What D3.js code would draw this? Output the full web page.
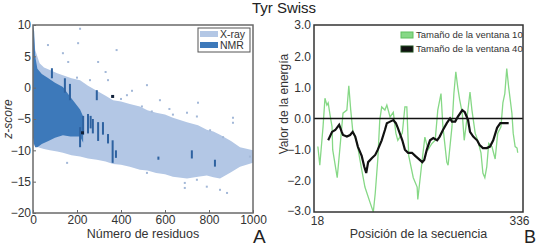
<!DOCTYPE html>
<html>
<head>
<meta charset="utf-8">
<script src="https://cdn.jsdelivr.net/npm/d3@7"></script>
<style>
  body { margin: 0; background: #fff; }
  svg { display: block; font-family: "Liberation Sans", Arial, sans-serif; }
</style>
</head>
<body>
<div id="chart"></div>
<script>
// ---- panel A: z-score vs number of residues ----
// dense clouds read as envelopes [n, upper, lower]
const xrayBand = [
  [0, 10, -9], [10, 6, -9.3], [30, 3.9, -9.6], [50, 3.2, -9.8], [77, 2.8, -10],
  [110, 2.3, -10.2], [136, 2.0, -10.4], [175, 1.5, -10.8], [214, 1.2, -11],
  [250, 0.3, -11.3], [290, -0.5, -11.5], [330, -1.3, -11.8], [364, -2.0, -12.2],
  [400, -2.2, -12.3], [440, -2.6, -12.6], [486, -3.0, -13.1], [520, -3.6, -13.2],
  [560, -4.0, -13.6], [600, -4.3, -13.8], [636, -4.8, -14.2], [700, -5.5, -14.5],
  [750, -6.0, -14.2], [790, -6.7, -14], [820, -7.0, -14.3], [850, -7.5, -14.5],
  [900, -8.5, -13.5], [941, -9.5, -12.6], [1000, -10, -12]
];
const nmrBand = [
  [0, 10, -8], [5, 9, -9], [10, 5, -9.5], [20, 3, -9.5], [40, 2.2, -9],
  [70, 1.5, -8.5], [100, 0.8, -8], [136, 0.1, -7.6], [170, -1.5, -7.8],
  [214, -3.5, -7.8], [228, -4.6, -8.8]
];
// NMR vertical streaks [n, top, bottom]
const nmrBars = [
  [86, 3.1, 1.5], [145, 1.5, -0.8], [168, 0.6, -2], [214, -6.3, -9.5], [228, -4.5, -7.5],
  [250, -4.2, -7.3], [262, -4.5, -6.5], [272, -5, -7.3], [290, -0.4, -2], [296, -5.5, -8.5],
  [318, -5.5, -7.5], [341, -7.4, -8.9], [362, -8.4, -12], [377, -10, -11.2],
  [570, -11, -11.5], [722, -10, -11.3], [827, -11.5, -12.6]
];
const blackDots = [[225, -7.2], [362, -1.4]];
const xrayOutliers = [
  [214, 9.4], [68, 6.8], [205, 7.1], [136, 5.5], [380, 6], [160, 4.1], [296, 4.1],
  [341, 1.2], [259, 1.2], [200, 1.6], [427, -1.2], [495, -3], [577, -2], [540, -3.8],
  [636, -4.3], [745, -4.6], [909, -4.8], [909, -5.6], [518, 0.4], [750, -2.4],
  [805, -6.8], [864, -7.9], [986, -11], [850, -16.3], [882, -16.8], [790, -15.8],
  [745, -14.7], [518, -13.6], [690, -16], [690, -15.2], [155, -12], [450, -0.5],
  [620, -3.4], [700, -4], [330, 2.5], [400, -1.8]
];
const xTicksA = [0, 200, 400, 600, 800, 1000];
const yTicksA = [10, 5, 0, -5, -10, -15, -20];

// ---- panel B: energy along sequence ----
const window10 = [
  [24, -0.9], [27, -1.5], [32, -0.27], [35, 0.65], [38, 0.43], [40, 0.5], [43, 0.1],
  [46, -0.27], [47, -1.0], [54, -1.9], [58, -1.0], [63, 0.17], [69, 0.27], [72, 1.05],
  [75, 0.27], [78, -0.37], [85, -0.8], [89, -1.3], [97, -2.2], [105, -2.7], [110, -3.0],
  [113, -2.4], [117, -1.3], [120, -0.05], [123, 0.37], [128, 0.27], [131, 0.43],
  [136, 0.05], [141, 0.2], [145, -0.47], [148, -0.7], [155, -0.47], [159, 0.37],
  [162, 0.37], [165, -1.2], [172, -1.9], [178, -2.2], [179, -2.6], [186, -1.3],
  [190, -0.6], [195, -1.0], [201, -0.8], [206, -0.7], [210, 0.27], [215, 0.8],
  [218, -0.27], [224, -1.4], [226, -1.5], [232, -0.27], [235, 0.8], [238, 1.5],
  [241, 1.0], [244, 0.6], [248, 0.17], [251, -0.7], [255, -0.05], [260, 0.85],
  [263, 0.27], [268, -0.47], [272, -0.7], [277, -1.1], [280, -1.75], [283, -1.9],
  [286, -1.55], [289, -0.8], [294, -0.9], [299, -1.3], [303, -0.47], [308, -0.27],
  [311, 0.5], [314, 0.8], [317, 1.6], [320, 1.0], [325, 0.17], [327, -0.47],
  [330, -0.9], [333, -0.95], [334, -1.1]
];
const window40 = [
  [40, -0.7], [46, -0.43], [51, -0.37], [57, -0.2], [61, -0.43], [63, -0.53],
  [69, -0.58], [74, -0.53], [78, -0.43], [82, -0.58], [86, -0.9], [92, -1.2],
  [96, -1.55], [99, -1.75], [102, -1.4], [108, -1.27], [113, -1.17], [117, -1.0],
  [123, -0.7], [128, -0.37], [131, -0.15], [136, -0.1], [141, -0.05], [145, -0.15],
  [148, -0.3], [155, -0.7], [159, -1.0], [164, -1.1], [170, -1.1], [175, -1.2],
  [179, -1.27], [186, -1.4], [189, -1.33], [193, -1.0], [198, -0.7], [203, -0.63],
  [209, -0.7], [213, -0.58], [218, -0.37], [224, -0.15], [229, 0.0], [232, -0.1],
  [237, -0.1], [241, 0.05], [248, 0.27], [252, 0.2], [257, -0.05], [260, -0.43],
  [265, -0.58], [271, -0.7], [275, -0.85], [280, -0.95], [286, -0.95], [291, -0.9],
  [296, -0.7], [302, -0.3], [307, -0.15], [311, -0.15], [317, -0.15], [320, -0.15]
];
const xTicksB = [18, 336];
const yTicksB = [3, 2, 1, 0, -1, -2, -3];

const W = 536, H = 250;
const svg = d3.select('#chart').append('svg')
  .attr('width', W).attr('height', H);

// title
svg.append('text')
  .attr('x', 284).attr('y', 13)
  .attr('text-anchor', 'middle')
  .style('font-size', '15px').style('fill', '#222')
  .text('Tyr Swiss');

// ================= panel A =================
const a = { left: 33, right: 253, top: 25, bottom: 213 };
const xA = d3.scaleLinear().domain([0, 1000]).range([a.left, a.right]);
const yA = d3.scaleLinear().domain([-20, 10]).range([a.bottom, a.top]);
const gA = svg.append('g');

const band = d3.area()
  .x(d => xA(d[0]))
  .y0(d => yA(d[2]))
  .y1(d => yA(d[1]));

gA.append('path').datum(xrayBand)
  .attr('d', band).attr('fill', '#b3c7e5');

gA.selectAll('.out').data(xrayOutliers).enter()
  .append('rect')
  .attr('x', d => xA(d[0]) - 1)
  .attr('y', d => yA(d[1]) - 1)
  .attr('width', 2).attr('height', 2)
  .attr('fill', '#a3b8d8');

gA.append('path').datum(nmrBand)
  .attr('d', band).attr('fill', '#3d79ba');

gA.selectAll('.bar').data(nmrBars).enter()
  .append('rect')
  .attr('x', d => xA(d[0]) - 1)
  .attr('y', d => yA(d[1]))
  .attr('width', 2)
  .attr('height', d => yA(d[2]) - yA(d[1]))
  .attr('fill', '#2e62a0');

gA.selectAll('.blk').data(blackDots).enter()
  .append('rect')
  .attr('x', d => xA(d[0]) - 1.5)
  .attr('y', d => yA(d[1]) - 1.5)
  .attr('width', 3).attr('height', 3)
  .attr('fill', '#10213a');

// frame
gA.append('rect')
  .attr('x', a.left).attr('y', a.top)
  .attr('width', a.right - a.left).attr('height', a.bottom - a.top)
  .attr('fill', 'none').attr('stroke', '#6a6a6a').attr('stroke-width', 1.5);

// axes
const axA = gA.append('g').attr('transform', `translate(0,${a.bottom})`)
  .call(d3.axisBottom(xA).tickValues(xTicksA).tickSize(-3).tickPadding(2)
    .tickFormat(d3.format('d')));
const ayA = gA.append('g').attr('transform', `translate(${a.left},0)`)
  .call(d3.axisLeft(yA).tickValues(yTicksA).tickSize(-3).tickPadding(2));
[axA, ayA].forEach(ax => {
  ax.select('.domain').remove();
  ax.selectAll('line').attr('stroke', '#6a6a6a');
  ax.selectAll('text').style('font-size', '12px').style('fill', '#333')
    .style('font-family', '"Liberation Sans", Arial, sans-serif');
});

// legend A
const lgA = gA.append('g');
lgA.append('rect').attr('x', 198).attr('y', 28).attr('width', 52).attr('height', 24)
  .attr('fill', '#fff').attr('stroke', '#555').attr('stroke-width', 1);
lgA.append('rect').attr('x', 200).attr('y', 31).attr('width', 18).attr('height', 6)
  .attr('fill', '#b3c7e5');
lgA.append('rect').attr('x', 200).attr('y', 42).attr('width', 18).attr('height', 6)
  .attr('fill', '#3d79ba');
lgA.append('text').attr('x', 220).attr('y', 38).text('X-ray')
  .style('font-size', '10.5px').style('fill', '#333');
lgA.append('text').attr('x', 220).attr('y', 49).text('NMR')
  .style('font-size', '10.5px').style('fill', '#333');

gA.append('text')
  .attr('x', (a.left + a.right) / 2).attr('y', 238)
  .attr('text-anchor', 'middle')
  .style('font-size', '12.5px').style('fill', '#333')
  .text('Número de residuos');
gA.append('text')
  .attr('transform', 'translate(12,119) rotate(-90)')
  .attr('text-anchor', 'middle')
  .style('font-size', '12px').style('font-style', 'italic').style('fill', '#333')
  .text('z-score');
gA.append('text')
  .attr('x', 253).attr('y', 243)
  .style('font-size', '19px').style('fill', '#222')
  .text('A');

// ================= panel B =================
const b = { left: 314, right: 523, top: 25, bottom: 212 };
const xB = d3.scaleLinear().domain([18, 336]).range([b.left, 519]);
const yB = d3.scaleLinear().domain([-3, 3]).range([b.bottom, b.top]);
const gB = svg.append('g');

const lineB = d3.line().x(d => xB(d[0])).y(d => yB(d[1]));

gB.append('path').datum(window10)
  .attr('d', lineB)
  .attr('fill', 'none').attr('stroke', '#86d886').attr('stroke-width', 1.3);

gB.append('line')
  .attr('x1', b.left).attr('x2', b.right)
  .attr('y1', yB(0)).attr('y2', yB(0))
  .attr('stroke', '#111').attr('stroke-width', 1.5);

gB.append('path').datum(window40)
  .attr('d', lineB)
  .attr('fill', 'none').attr('stroke', '#111').attr('stroke-width', 2.2);

gB.append('rect')
  .attr('x', b.left).attr('y', b.top)
  .attr('width', b.right - b.left).attr('height', b.bottom - b.top)
  .attr('fill', 'none').attr('stroke', '#333').attr('stroke-width', 1.5);

const axB = gB.append('g').attr('transform', `translate(0,${b.bottom})`)
  .call(d3.axisBottom(xB).tickValues(xTicksB).tickSize(0).tickPadding(4));
const ayB = gB.append('g').attr('transform', `translate(${b.left},0)`)
  .call(d3.axisLeft(yB).tickValues(yTicksB).tickSize(0).tickPadding(3)
    .tickFormat(d3.format('.1f')));
[axB, ayB].forEach(ax => {
  ax.select('.domain').remove();
  ax.selectAll('text').style('font-size', '12px').style('fill', '#333')
    .style('font-family', '"Liberation Sans", Arial, sans-serif');
});
// nudge first x label off the -3.0 label, as in the original
axB.selectAll('text').filter(d => d === 18).attr('dx', 3);
ayB.selectAll('text').filter(d => d === -3).attr('dy', '0.2em');

// legend B
const lgB = gB.append('g');
lgB.append('rect').attr('x', 401).attr('y', 32).attr('width', 12).attr('height', 6)
  .attr('fill', '#86d886').attr('stroke', '#5fbf5f').attr('stroke-width', 1);
lgB.append('rect').attr('x', 401).attr('y', 46).attr('width', 12).attr('height', 6)
  .attr('fill', '#111').attr('stroke', '#1d4d1d').attr('stroke-width', 1);
lgB.append('text').attr('x', 416).attr('y', 38).text('Tamaño de la ventana 10')
  .style('font-size', '9.5px').style('fill', '#333');
lgB.append('text').attr('x', 416).attr('y', 52).text('Tamaño de la ventana 40')
  .style('font-size', '9.5px').style('fill', '#333');

gB.append('text')
  .attr('x', (b.left + b.right) / 2).attr('y', 238)
  .attr('text-anchor', 'middle')
  .style('font-size', '12.5px').style('fill', '#333')
  .text('Posición de la secuencia');
gB.append('text')
  .attr('transform', 'translate(288,104) rotate(-90)')
  .attr('text-anchor', 'middle')
  .style('font-size', '12px').style('fill', '#333')
  .text('Valor de la energía');
gB.append('text')
  .attr('x', 524).attr('y', 243)
  .style('font-size', '18px').style('fill', '#222')
  .text('B');
</script>
</body>
</html>
